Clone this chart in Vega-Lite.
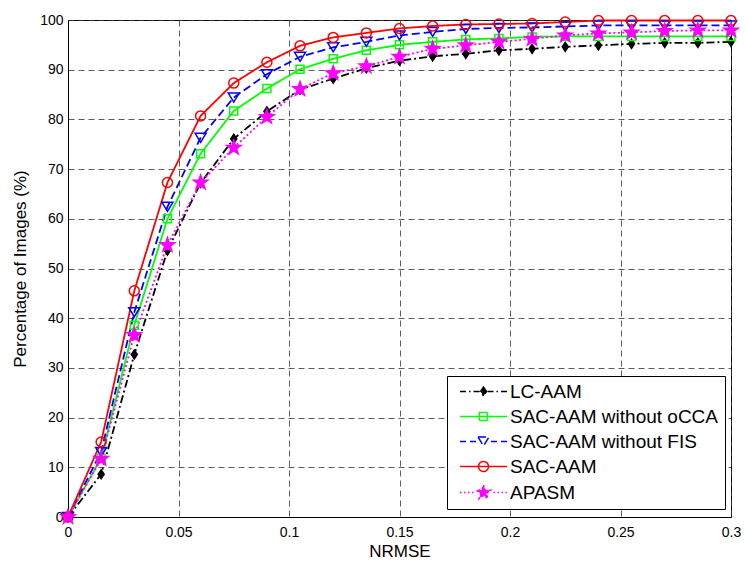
{
  "$schema": "https://vega.github.io/schema/vega-lite/v6.json",
  "width": 663,
  "height": 497,
  "autosize": "none",
  "padding": {"left": 68, "top": 20, "right": 16, "bottom": 46},
  "background": "white",
  "config": {
    "font": "Liberation Sans",
    "view": {"stroke": "black", "strokeWidth": 1},
    "axis": {
      "domainColor": "black",
      "domainWidth": 1,
      "ticks": false,
      "grid": true,
      "gridColor": "#333333",
      "gridDash": [6, 4],
      "gridWidth": 0.8,
      "labelColor": "black",
      "labelFontSize": 14,
      "labelFont": "Liberation Sans",
      "titleFont": "Liberation Sans",
      "titleFontSize": 17,
      "titleFontWeight": "normal",
      "titleColor": "black",
      "labelOverlap": false,
      "labelFlush": false
    }
  },
  "data": {
    "values": [
      {"s": "LC-AAM", "x": 0, "y": 0},
      {"s": "LC-AAM", "x": 0.015, "y": 8.6},
      {"s": "LC-AAM", "x": 0.03, "y": 32.7},
      {"s": "LC-AAM", "x": 0.045, "y": 53.6},
      {"s": "LC-AAM", "x": 0.06, "y": 67.2},
      {"s": "LC-AAM", "x": 0.075, "y": 76.1},
      {"s": "LC-AAM", "x": 0.09, "y": 81.6},
      {"s": "LC-AAM", "x": 0.105, "y": 86.0},
      {"s": "LC-AAM", "x": 0.12, "y": 88.2},
      {"s": "LC-AAM", "x": 0.135, "y": 90.3},
      {"s": "LC-AAM", "x": 0.15, "y": 91.8},
      {"s": "LC-AAM", "x": 0.165, "y": 92.7},
      {"s": "LC-AAM", "x": 0.18, "y": 93.2},
      {"s": "LC-AAM", "x": 0.195, "y": 93.9},
      {"s": "LC-AAM", "x": 0.21, "y": 94.2},
      {"s": "LC-AAM", "x": 0.225, "y": 94.6},
      {"s": "LC-AAM", "x": 0.24, "y": 94.9},
      {"s": "LC-AAM", "x": 0.255, "y": 95.2},
      {"s": "LC-AAM", "x": 0.27, "y": 95.4},
      {"s": "LC-AAM", "x": 0.285, "y": 95.4},
      {"s": "LC-AAM", "x": 0.3, "y": 95.6},
      {"s": "SAC-AAM without oCCA", "x": 0, "y": 0},
      {"s": "SAC-AAM without oCCA", "x": 0.015, "y": 11.8},
      {"s": "SAC-AAM without oCCA", "x": 0.03, "y": 38.6},
      {"s": "SAC-AAM without oCCA", "x": 0.045, "y": 60.0},
      {"s": "SAC-AAM without oCCA", "x": 0.06, "y": 73.1},
      {"s": "SAC-AAM without oCCA", "x": 0.075, "y": 81.7},
      {"s": "SAC-AAM without oCCA", "x": 0.09, "y": 86.2},
      {"s": "SAC-AAM without oCCA", "x": 0.105, "y": 90.1},
      {"s": "SAC-AAM without oCCA", "x": 0.12, "y": 92.2},
      {"s": "SAC-AAM without oCCA", "x": 0.135, "y": 93.9},
      {"s": "SAC-AAM without oCCA", "x": 0.15, "y": 95.0},
      {"s": "SAC-AAM without oCCA", "x": 0.165, "y": 95.6},
      {"s": "SAC-AAM without oCCA", "x": 0.18, "y": 96.1},
      {"s": "SAC-AAM without oCCA", "x": 0.195, "y": 96.3},
      {"s": "SAC-AAM without oCCA", "x": 0.21, "y": 96.6},
      {"s": "SAC-AAM without oCCA", "x": 0.225, "y": 96.7},
      {"s": "SAC-AAM without oCCA", "x": 0.24, "y": 96.7},
      {"s": "SAC-AAM without oCCA", "x": 0.255, "y": 96.7},
      {"s": "SAC-AAM without oCCA", "x": 0.27, "y": 96.7},
      {"s": "SAC-AAM without oCCA", "x": 0.285, "y": 96.7},
      {"s": "SAC-AAM without oCCA", "x": 0.3, "y": 96.7},
      {"s": "SAC-AAM without FIS", "x": 0, "y": 0},
      {"s": "SAC-AAM without FIS", "x": 0.015, "y": 13.1},
      {"s": "SAC-AAM without FIS", "x": 0.03, "y": 41.2},
      {"s": "SAC-AAM without FIS", "x": 0.045, "y": 62.4},
      {"s": "SAC-AAM without FIS", "x": 0.06, "y": 76.3},
      {"s": "SAC-AAM without FIS", "x": 0.075, "y": 84.4},
      {"s": "SAC-AAM without FIS", "x": 0.09, "y": 89.1},
      {"s": "SAC-AAM without FIS", "x": 0.105, "y": 92.6},
      {"s": "SAC-AAM without FIS", "x": 0.12, "y": 94.5},
      {"s": "SAC-AAM without FIS", "x": 0.135, "y": 95.6},
      {"s": "SAC-AAM without FIS", "x": 0.15, "y": 96.9},
      {"s": "SAC-AAM without FIS", "x": 0.165, "y": 97.6},
      {"s": "SAC-AAM without FIS", "x": 0.18, "y": 98.2},
      {"s": "SAC-AAM without FIS", "x": 0.195, "y": 98.4},
      {"s": "SAC-AAM without FIS", "x": 0.21, "y": 98.5},
      {"s": "SAC-AAM without FIS", "x": 0.225, "y": 98.7},
      {"s": "SAC-AAM without FIS", "x": 0.24, "y": 98.9},
      {"s": "SAC-AAM without FIS", "x": 0.255, "y": 98.9},
      {"s": "SAC-AAM without FIS", "x": 0.27, "y": 98.9},
      {"s": "SAC-AAM without FIS", "x": 0.285, "y": 98.9},
      {"s": "SAC-AAM without FIS", "x": 0.3, "y": 98.9},
      {"s": "SAC-AAM", "x": 0, "y": 0},
      {"s": "SAC-AAM", "x": 0.015, "y": 15.1},
      {"s": "SAC-AAM", "x": 0.03, "y": 45.5},
      {"s": "SAC-AAM", "x": 0.045, "y": 67.3},
      {"s": "SAC-AAM", "x": 0.06, "y": 80.7},
      {"s": "SAC-AAM", "x": 0.075, "y": 87.3},
      {"s": "SAC-AAM", "x": 0.09, "y": 91.5},
      {"s": "SAC-AAM", "x": 0.105, "y": 94.8},
      {"s": "SAC-AAM", "x": 0.12, "y": 96.5},
      {"s": "SAC-AAM", "x": 0.135, "y": 97.4},
      {"s": "SAC-AAM", "x": 0.15, "y": 98.3},
      {"s": "SAC-AAM", "x": 0.165, "y": 98.8},
      {"s": "SAC-AAM", "x": 0.18, "y": 99.1},
      {"s": "SAC-AAM", "x": 0.195, "y": 99.2},
      {"s": "SAC-AAM", "x": 0.21, "y": 99.3},
      {"s": "SAC-AAM", "x": 0.225, "y": 99.6},
      {"s": "SAC-AAM", "x": 0.24, "y": 99.9},
      {"s": "SAC-AAM", "x": 0.255, "y": 99.9},
      {"s": "SAC-AAM", "x": 0.27, "y": 99.9},
      {"s": "SAC-AAM", "x": 0.285, "y": 99.9},
      {"s": "SAC-AAM", "x": 0.3, "y": 99.9},
      {"s": "APASM", "x": 0, "y": 0},
      {"s": "APASM", "x": 0.015, "y": 11.7},
      {"s": "APASM", "x": 0.03, "y": 36.6},
      {"s": "APASM", "x": 0.045, "y": 54.7},
      {"s": "APASM", "x": 0.06, "y": 67.3},
      {"s": "APASM", "x": 0.075, "y": 74.3},
      {"s": "APASM", "x": 0.09, "y": 80.5},
      {"s": "APASM", "x": 0.105, "y": 86.1},
      {"s": "APASM", "x": 0.12, "y": 89.3},
      {"s": "APASM", "x": 0.135, "y": 90.7},
      {"s": "APASM", "x": 0.15, "y": 92.6},
      {"s": "APASM", "x": 0.165, "y": 94.2},
      {"s": "APASM", "x": 0.18, "y": 94.9},
      {"s": "APASM", "x": 0.195, "y": 95.6},
      {"s": "APASM", "x": 0.21, "y": 96.2},
      {"s": "APASM", "x": 0.225, "y": 96.9},
      {"s": "APASM", "x": 0.24, "y": 97.3},
      {"s": "APASM", "x": 0.255, "y": 97.5},
      {"s": "APASM", "x": 0.27, "y": 97.8},
      {"s": "APASM", "x": 0.285, "y": 97.9},
      {"s": "APASM", "x": 0.3, "y": 97.9}
    ]
  },
  "encoding": {
    "x": {
      "field": "x",
      "type": "quantitative",
      "scale": {"domain": [0, 0.3], "nice": false, "zero": false},
      "axis": {
        "title": "NRMSE",
        "values": [0, 0.05, 0.1, 0.15, 0.2, 0.25, 0.3],
        "format": "~g",
        "labelPadding": 8,
        "titlePadding": 4
      }
    },
    "y": {
      "field": "y",
      "type": "quantitative",
      "scale": {"domain": [0, 100], "nice": false},
      "axis": {
        "title": "Percentage of Images (%)",
        "values": [0, 10, 20, 30, 40, 50, 60, 70, 80, 90, 100],
        "labelPadding": 5,
        "titlePadding": 10
      }
    }
  },
  "layer": [
    {
      "mark": {"type": "line", "strokeWidth": 1.8, "clip": false},
      "encoding": {
        "color": {
          "field": "s",
          "type": "nominal",
          "scale": {
            "domain": ["LC-AAM", "SAC-AAM without oCCA", "SAC-AAM without FIS", "SAC-AAM", "APASM"],
            "range": ["#000000", "#00ff00", "#0000ff", "#ff0000", "#ff00ff"]
          },
          "legend": {
            "title": null,
            "orient": "none",
            "legendX": 379,
            "legendY": 356,
            "direction": "vertical",
            "fillColor": "white",
            "strokeColor": "black",
            "padding": 6,
            "cornerRadius": 0,
            "labelFont": "Liberation Sans",
            "labelFontSize": 19,
            "labelColor": "black",
            "labelLimit": 400,
            "rowPadding": 5,
            "symbolSize": 100,
            "symbolOffset": 21,
            "labelOffset": 17,
            "symbolStrokeWidth": 1.5,
            "encode": {
              "symbols": {
                "update": {
                  "shape": {"signal": "datum.value === 'LC-AAM' ? 'M-4.7,0H-3.5M-2.9,0H-2.6M-2,0H-0.8M0.8,0H2M2.6,0H2.9M3.5,0H4.7M0,-0.9L0.6,0L0,0.9L-0.6,0Z' : datum.value === 'SAC-AAM without oCCA' ? 'M-4.7,0H4.7M-0.8,-0.8H0.8V0.8H-0.8Z' : datum.value === 'SAC-AAM without FIS' ? 'M-4.7,0H-3.5M-2.7,0H-1.5M1.5,0H2.7M3.5,0H4.7M-1.1,-0.9H1.1L0,0.9Z' : datum.value === 'SAC-AAM' ? 'M-4.7,0H4.7M1,0A1,1,0,1,1,-1,0A1,1,0,1,1,1,0Z' : 'M-4.7,0H-4.4M-3.9,0H-3.6M-3.1,0H-2.8M-2.3,0H-2M2,0H2.3M2.8,0H3.1M3.6,0H3.9M4.4,0H4.7M0,-1.5L0.353,-0.485L1.427,-0.464L0.571,0.185L0.882,1.214L0,0.6L-0.882,1.214L-0.571,0.185L-1.427,-0.464L-0.353,-0.485Z'"},
                  "fill": {"signal": "datum.value === 'LC-AAM' ? '#000000' : datum.value === 'APASM' ? '#ff00ff' : 'transparent'"},
                  "size": {"value": 100},
                  "strokeWidth": {"value": 1.5},
                  "strokeDash": {"value": []}
                }
              }
            }
          }
        },
        "strokeDash": {
          "field": "s",
          "type": "nominal",
          "scale": {
            "domain": ["LC-AAM", "SAC-AAM without oCCA", "SAC-AAM without FIS", "SAC-AAM", "APASM"],
            "range": [[8, 3, 2, 3], [1, 0], [8, 4], [1, 0], [2, 2.5]]
          },
          "legend": null
        }
      }
    },
    {
      "transform": [{"filter": "datum.s === 'LC-AAM'"}],
      "mark": {"type": "point", "size": 100, "strokeWidth": 1.5, "opacity": 1, "clip": false, "shape": "M0,-0.9L0.6,0L0,0.9L-0.6,0Z", "fill": "#000000", "stroke": "#000000", "filled": true}
    },
    {
      "transform": [{"filter": "datum.s === 'SAC-AAM without oCCA'"}],
      "mark": {"type": "point", "size": 100, "strokeWidth": 1.5, "opacity": 1, "clip": false, "shape": "M-0.8,-0.8H0.8V0.8H-0.8Z", "fill": "transparent", "stroke": "#00ff00"}
    },
    {
      "transform": [{"filter": "datum.s === 'SAC-AAM without FIS'"}],
      "mark": {"type": "point", "size": 100, "strokeWidth": 1.5, "opacity": 1, "clip": false, "shape": "M-1.1,-0.9H1.1L0,0.9Z", "fill": "transparent", "stroke": "#0000ff"}
    },
    {
      "transform": [{"filter": "datum.s === 'SAC-AAM'"}],
      "mark": {"type": "point", "size": 100, "strokeWidth": 1.5, "opacity": 1, "clip": false, "shape": "M1,0A1,1,0,1,1,-1,0A1,1,0,1,1,1,0Z", "fill": "transparent", "stroke": "#ff0000"}
    },
    {
      "transform": [{"filter": "datum.s === 'APASM'"}],
      "mark": {"type": "point", "size": 100, "strokeWidth": 1.5, "opacity": 1, "clip": false, "shape": "M0,-1.5L0.353,-0.485L1.427,-0.464L0.571,0.185L0.882,1.214L0,0.6L-0.882,1.214L-0.571,0.185L-1.427,-0.464L-0.353,-0.485Z", "fill": "#ff00ff", "stroke": "#ff00ff", "filled": true}
    }
  ]
}
